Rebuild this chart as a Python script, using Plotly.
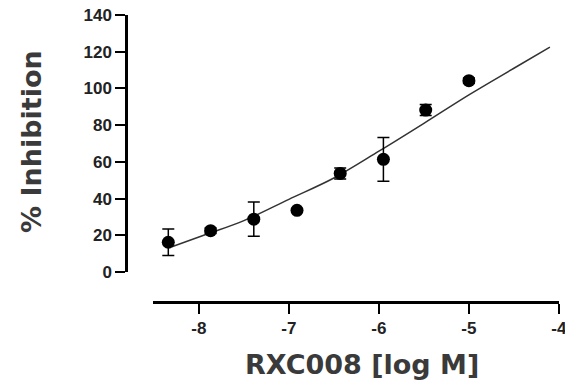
import plotly.graph_objects as go

# Data points (log M, % inhibition, SEM)
log_conc = [-8.34, -7.87, -7.39, -6.91, -6.43, -5.95, -5.48, -5.00]
inhibition = [16.2, 22.5, 28.8, 33.6, 53.7, 61.4, 88.2, 104.2]
err = [7.2, 1.5, 9.3, 1.0, 3.0, 11.9, 3.0, 1.5]

# Fitted curve
curve_x = [-8.30, -7.90, -7.50, -7.00, -6.50, -6.00, -5.50, -5.00, -4.50, -4.10]
curve_y = [13.8, 20.8, 28.0, 39.6, 51.2, 65.8, 81.0, 96.5, 111.0, 122.5]

y_ticks = [0, 20, 40, 60, 80, 100, 120, 140]
x_ticks = [-8, -7, -6, -5, -4]

fig = go.Figure()
fig.add_trace(go.Scatter(x=curve_x, y=curve_y, mode="lines",
                         line=dict(color="#333333", width=1.5, shape="spline", smoothing=1.0),
                         hoverinfo="skip", showlegend=False))
fig.add_trace(go.Scatter(x=log_conc, y=inhibition, mode="markers",
                         marker=dict(color="black", size=13),
                         error_y=dict(type="data", array=err, visible=True,
                                      color="black", thickness=1.5, width=6),
                         showlegend=False))

W, H = 565, 382
ml, mr, mt, mb = 126, 6, 15, 80
pw = W - ml - mr
ph = H - mt - mb

tickfont = dict(family="Liberation Sans", size=17, color="#222222", weight="bold")
titlefont = dict(family="DejaVu Sans", size=27, color="#3a3a3a", weight="bold")

fig.update_layout(
    width=W, height=H,
    margin=dict(l=ml, r=mr, t=mt, b=mb, autoexpand=False),
    plot_bgcolor="white", paper_bgcolor="white",
    xaxis=dict(domain=[(153 - ml) / pw, 1], range=[-8.51, -3.999],
               anchor="free", position=0, automargin=False,
               tickvals=x_ticks, ticktext=[str(v) for v in x_ticks],
               ticklabeloverflow="allow",
               showline=True, linecolor="black", linewidth=2.5,
               ticks="outside", ticklen=10, tickwidth=2, tickcolor="black",
               showgrid=False, zeroline=False,
               tickfont=tickfont),
    yaxis=dict(domain=[(302 - 272) / ph, 1], range=[0, 140],
               anchor="free", position=0, automargin=False,
               tickvals=y_ticks,
               ticklabeloverflow="allow",
               showline=True, linecolor="black", linewidth=2.5,
               ticks="outside", ticklen=10, tickwidth=2, tickcolor="black",
               showgrid=False, zeroline=False,
               tickfont=tickfont),
    annotations=[
        dict(text="RXC008 [log M]", xref="paper", yref="paper",
             x=(362 - ml) / pw, y=(302 - 364) / ph,
             xanchor="center", yanchor="middle", showarrow=False, font=titlefont),
        dict(text="% Inhibition", xref="paper", yref="paper",
             x=(31 - ml) / pw, y=(302 - 142) / ph, textangle=-90,
             xanchor="center", yanchor="middle", showarrow=False, font=titlefont),
    ],
)

fig.write_html("out.html")
